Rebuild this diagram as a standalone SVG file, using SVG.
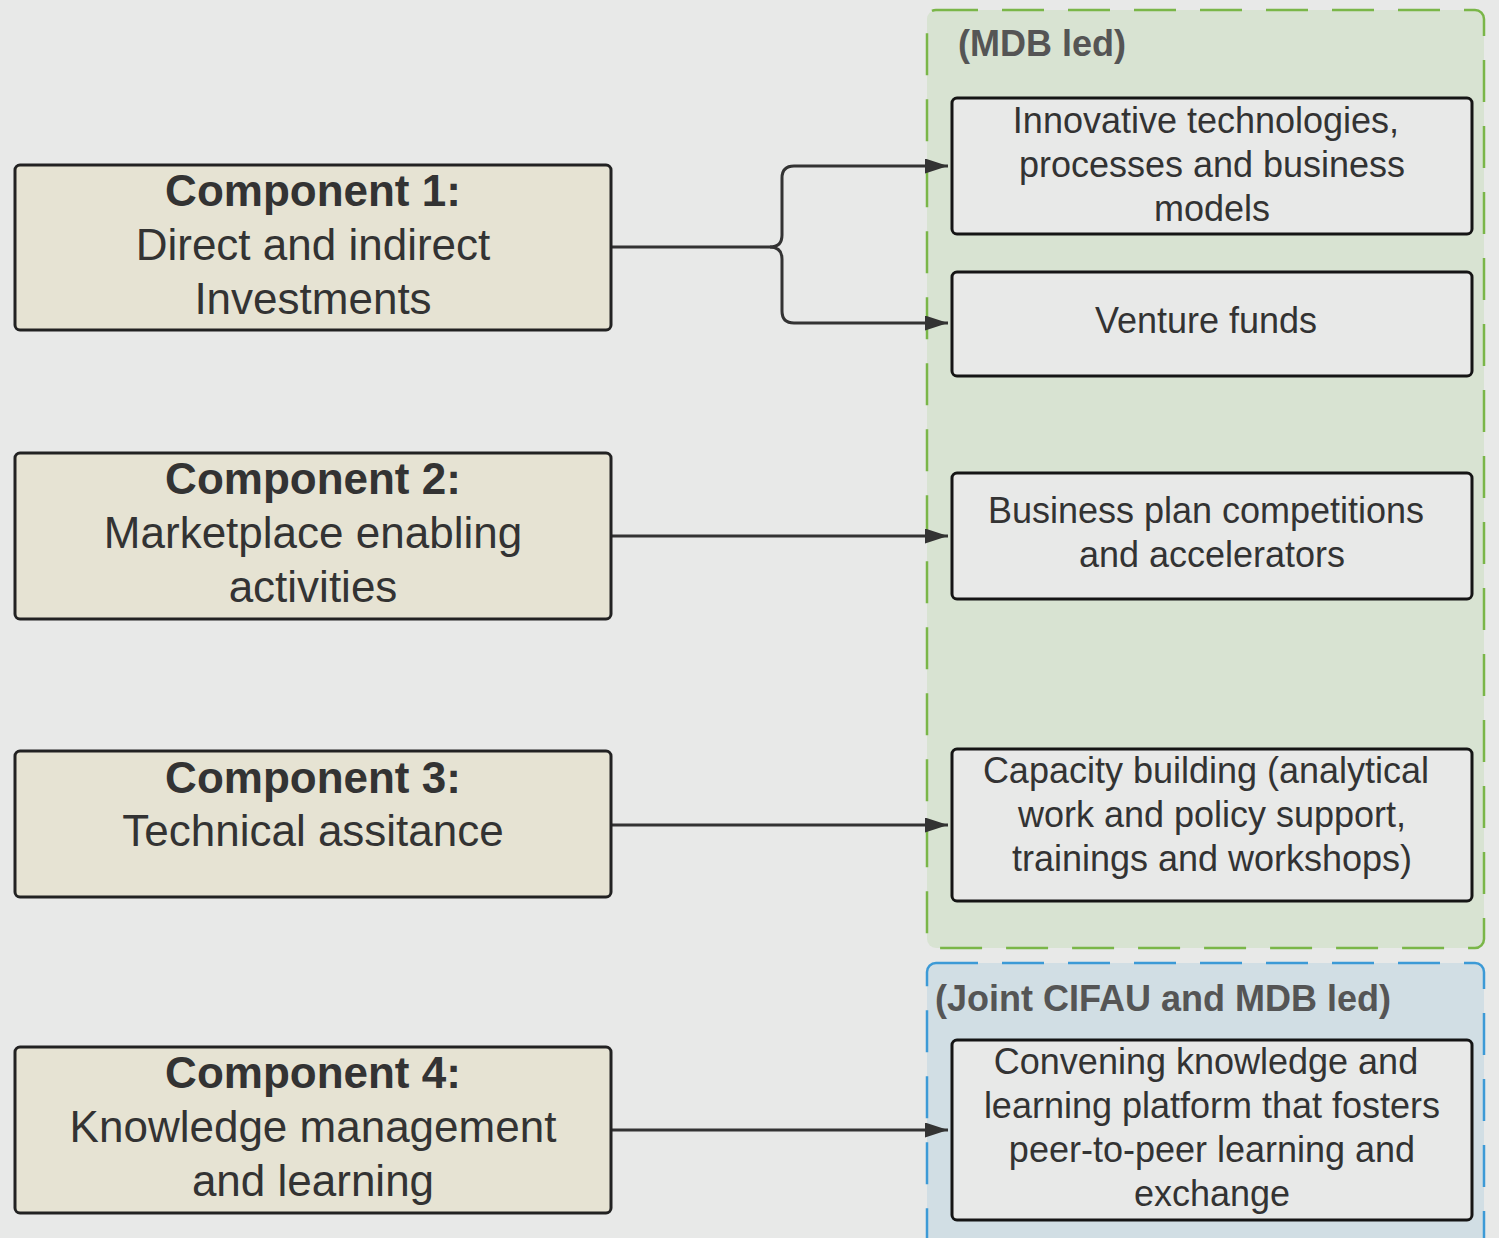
<svg xmlns="http://www.w3.org/2000/svg" width="1499" height="1238" viewBox="0 0 1499 1238">
<style>
.bg{fill:#e8e9e8}
.comp{fill:#e6e3d3;stroke:#222;stroke-width:3}
.item{fill:#e8e9e8;stroke:#151515;stroke-width:3}
.t{font-family:"Liberation Sans",Arial,sans-serif;font-size:44px;fill:#333;text-anchor:middle}
.tb{font-weight:bold}
.r{font-family:"Liberation Sans",Arial,sans-serif;font-size:36px;fill:#333;text-anchor:middle}
.lbl{font-family:"Liberation Sans",Arial,sans-serif;font-size:36px;font-weight:bold;fill:#555}
.conn{fill:none;stroke:#333;stroke-width:3;marker-end:url(#arr)}
</style>
<defs>
<marker id="arr" markerUnits="userSpaceOnUse" markerWidth="24" markerHeight="16" refX="23" refY="7.5" orient="auto">
<path d="M0,0 L23,7.5 L0,15 z" fill="#333"/>
</marker>
</defs>
<rect class="bg" x="0" y="0" width="1499" height="1238"/>
<g id="group-mdb">
<rect x="927" y="10" width="557" height="938" rx="9" fill="#d8e3d2" stroke="#7ab648" stroke-width="2.5" stroke-dasharray="42 24"/>
<text class="lbl" x="958" y="56">(MDB led)</text>
</g>
<g id="group-joint">
<rect x="927" y="963" width="557" height="290" rx="9" fill="#d1dee4" stroke="#3c9ad6" stroke-width="2.5" stroke-dasharray="42 24"/>
<text class="lbl" x="935" y="1011">(Joint CIFAU and MDB led)</text>
</g>
<g id="connectors">
<path class="conn" d="M611,247 H770 Q782,247 782,235 V178 Q782,166 794,166 H948"/>
<path class="conn" d="M770,247 Q782,247 782,259 V311 Q782,323 794,323 H948"/>
<path class="conn" d="M611,536 H948"/>
<path class="conn" d="M611,825 H948"/>
<path class="conn" d="M611,1130 H948"/>
</g>
<g id="comp1">
<rect class="comp" x="15" y="165" width="596" height="165" rx="5"/>
<text class="t tb" x="313" y="206">Component 1:</text>
<text class="t" x="313" y="260">Direct and indirect</text>
<text class="t" x="313" y="314">Investments</text>
</g>
<g id="comp2">
<rect class="comp" x="15" y="453" width="596" height="166" rx="5"/>
<text class="t tb" x="313" y="494">Component 2:</text>
<text class="t" x="313" y="548">Marketplace enabling</text>
<text class="t" x="313" y="602">activities</text>
</g>
<g id="comp3">
<rect class="comp" x="15" y="751" width="596" height="146" rx="5"/>
<text class="t tb" x="313" y="793">Component 3:</text>
<text class="t" x="313" y="846">Technical assitance</text>
</g>
<g id="comp4">
<rect class="comp" x="15" y="1047" width="596" height="166" rx="5"/>
<text class="t tb" x="313" y="1088">Component 4:</text>
<text class="t" x="313" y="1142">Knowledge management</text>
<text class="t" x="313" y="1196">and learning</text>
</g>
<g id="item1">
<rect class="item" x="952" y="98" width="520" height="136" rx="5"/>
<text class="r" x="1206" y="133">Innovative technologies,</text>
<text class="r" x="1212" y="177">processes and business</text>
<text class="r" x="1212" y="221">models</text>
</g>
<g id="item2">
<rect class="item" x="952" y="272" width="520" height="104" rx="5"/>
<text class="r" x="1206" y="333">Venture funds</text>
</g>
<g id="item3">
<rect class="item" x="952" y="473" width="520" height="126" rx="5"/>
<text class="r" x="1206" y="523">Business plan competitions</text>
<text class="r" x="1212" y="567">and accelerators</text>
</g>
<g id="item4">
<rect class="item" x="952" y="749" width="520" height="152" rx="5"/>
<text class="r" x="1206" y="783">Capacity building (analytical</text>
<text class="r" x="1212" y="827">work and policy support,</text>
<text class="r" x="1212" y="871">trainings and workshops)</text>
</g>
<g id="item5">
<rect class="item" x="952" y="1040" width="520" height="180" rx="5"/>
<text class="r" x="1206" y="1074">Convening knowledge and</text>
<text class="r" x="1212" y="1118">learning platform that fosters</text>
<text class="r" x="1212" y="1162">peer-to-peer learning and</text>
<text class="r" x="1212" y="1206">exchange</text>
</g>
</svg>
